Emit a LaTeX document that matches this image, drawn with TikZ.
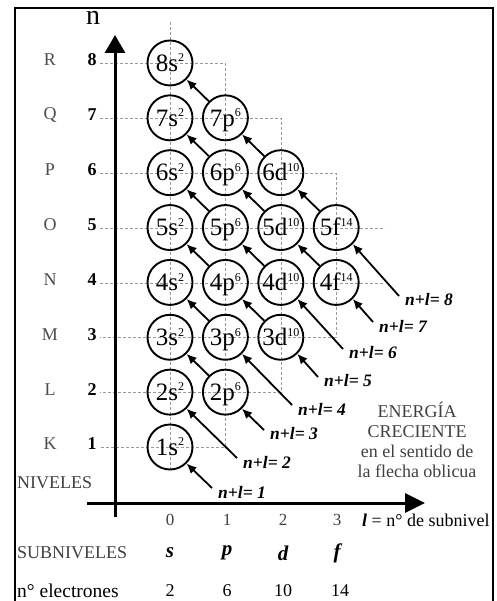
\documentclass[tikz,border=0pt]{standalone}
\usepackage{fontspec}
\setmainfont{Liberation Serif}
\usetikzlibrary{arrows.meta}
\newcommand\esup[1]{\raisebox{9.5pt}{\fontsize{12}{12}\selectfont#1}}
\begin{document}
\begin{tikzpicture}[x=1pt,y=-1pt,
  orb/.style={circle, draw, line width=1.9pt, minimum size=45pt, inner sep=0pt,
    text height=17.5pt, text depth=1pt, font=\fontsize{25}{25}\selectfont},
  gridline/.style={draw=black!40, line width=0.8pt, dash pattern=on 3pt off 2pt},
  arr/.style={line width=1.8pt, -{Latex[length=10pt,width=9pt]}},
  axisline/.style={line width=3pt},
  nl/.style={font=\fontsize{17.5}{17.5}\selectfont\bfseries\itshape, anchor=west, inner sep=0pt},
  lvl/.style={font=\fontsize{18}{18}\selectfont, text=black!70},
  num/.style={font=\fontsize{18}{18}\selectfont\bfseries},
  btxt/.style={font=\fontsize{18}{18}\selectfont, text=black!75, inner sep=0pt},
  sub/.style={font=\fontsize{21}{21}\selectfont\bfseries\itshape},
]
\useasboundingbox (0,0) rectangle (496,601);
% frame
\draw[line width=2pt] (15,605) -- (15,8) -- (493,8) -- (493,605);
% dashed grid
\draw[gridline] (170,22) -- (170,470);
\draw[gridline] (100,63) -- (225,63) -- (225,447) -- (100,447);
\draw[gridline] (100,118) -- (281,118) -- (281,392) -- (100,392);
\draw[gridline] (100,173) -- (336,173) -- (336,337) -- (100,337);
\draw[gridline] (100,228) -- (385,228);
\draw[gridline] (100,283) -- (385,283);
% axes
\coordinate (ybot) at (115,517);
\coordinate (ytop) at (115,35);
\coordinate (xl) at (87,503);
\coordinate (xr) at (425,503);
\draw[axisline, -{Triangle[length=18pt,width=20pt]}] (ybot) -- (ytop);
\draw[axisline, -{Triangle[length=20pt,width=19pt]}] (xl) -- (xr);
\node[font=\fontsize{28}{28}\selectfont] (nlab) at (93,18) {n};
% level labels
\foreach \n/\L in {1/K,2/L,3/M,4/N,5/O,6/P,7/Q,8/R}{
  \node[lvl] (L\n) at (50,{444-54.86*(\n-1)}) {\L};
  \node[num] (N\n) at (92,{444-54.86*(\n-1)}) {\n};
}
% orbitals
\foreach \n/\l/\s/\e in {1/0/s/2,2/0/s/2,3/0/s/2,4/0/s/2,5/0/s/2,6/0/s/2,7/0/s/2,8/0/s/2,
  2/1/p/6,3/1/p/6,4/1/p/6,5/1/p/6,6/1/p/6,7/1/p/6,
  3/2/d/10,4/2/d/10,5/2/d/10,6/2/d/10,
  4/3/f/14,5/3/f/14}{
  \node[orb] (c\n\s) at ({170+55.4*\l},{447-54.86*(\n-1)}) {\n\s\esup{\e}};
}
% arrows between orbitals
\foreach \a/\b in {2p/3s,3p/4s,3d/4p,4p/5s,4d/5p,5p/6s,4f/5d,5d/6p,6p/7s,5f/6d,6d/7p,7p/8s}{
  \draw[arr] (c\a.north west) -- (c\b.south east);
}
% n+l labels and their arrows
\foreach \k/\tx/\ty/\c in {1/212/488/1s,2/237/458/2s,3/264/430/2p,4/292/405/3p,
  5/318/377/3d,6/343/349/4d,7/373/322/4f,8/399/296/5f}{
  \coordinate (t\k) at (\tx,\ty);
  \node[nl] (nl\k) at (\tx+6,\ty+4) {n+l= \k};
  \draw[arr] (t\k) -- (c\c.south east);
}
% energy text
\node[btxt, align=center, font=\fontsize{18}{20}\selectfont] (energy) at (417,440)
  {ENERG\'IA\\CRECIENTE\\en el sentido de\\la flecha oblicua};
% bottom texts
\node[btxt, anchor=west] (niveles) at (17,483) {NIVELES};
\foreach \l/\x in {0/170,1/227,2/283,3/337}{
  \node[font=\fontsize{17}{17}\selectfont, text=black!75] (l\l) at (\x,520) {\l};
}
\node[btxt, anchor=west, text=black] (lsub) at (362,520) {{\bfseries\itshape l} = n° de subnivel};
\node[btxt, anchor=west] (subniv) at (17,553) {SUBNIVELES};
\foreach \s/\x in {s/170,p/227,d/283,f/337}{
  \node[sub] (sb\s) at (\x,553) {\s};
}
\node[btxt, anchor=west, text=black, font=\fontsize{19.5}{19.5}\selectfont] (nelec) at (17,591) {n° electrones};
\foreach \v/\x in {2/170,6/227,10/283,14/340}{
  \node[font=\fontsize{18}{18}\selectfont] (e\v) at (\x,591) {\v};
}
\end{tikzpicture}
\end{document}
